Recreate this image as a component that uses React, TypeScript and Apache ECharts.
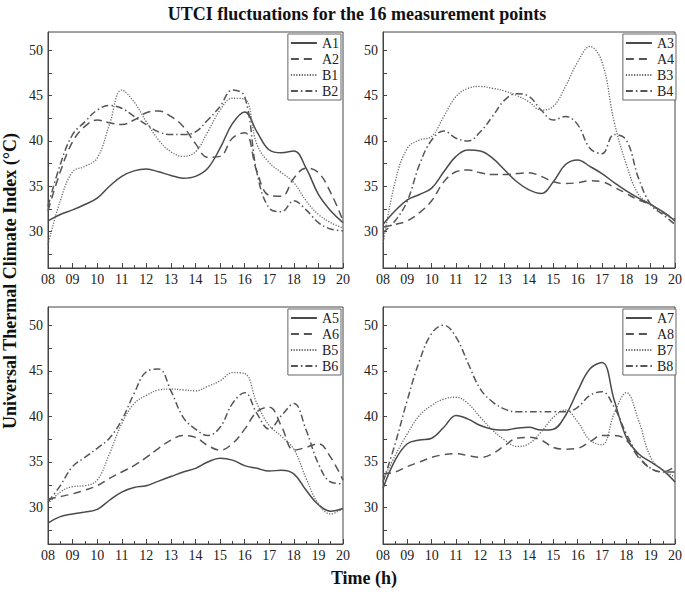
import React, { useEffect, useRef } from "react";
import * as echarts from "echarts";

const hours = [8, 8.5, 9, 9.5, 10, 10.5, 11, 11.5, 12, 12.5, 13, 13.5, 14, 14.5, 15, 15.5, 16, 16.5, 17, 17.5, 18, 18.5, 19, 19.5, 20];

// Panel 1
const A1 = [31.2, 31.9, 32.4, 33.0, 33.7, 35.0, 36.1, 36.7, 36.9, 36.6, 36.2, 35.9, 36.1, 37.0, 39.2, 41.9, 43.2, 41.0, 39.0, 38.7, 38.9, 37.0, 34.1, 32.3, 31.0];
const A2 = [32.3, 36.6, 39.9, 41.6, 42.3, 42.0, 41.8, 42.3, 43.1, 43.3, 42.7, 41.6, 39.7, 38.2, 38.3, 40.3, 40.9, 36.6, 34.0, 33.9, 35.9, 37.0, 36.5, 34.3, 31.2];
const B1 = [28.6, 33.4, 36.6, 37.2, 38.1, 41.8, 45.6, 44.3, 42.1, 40.1, 38.8, 38.3, 38.8, 41.0, 43.4, 44.7, 44.6, 39.6, 37.6, 36.5, 35.4, 33.4, 31.9, 31.0, 30.4];
const B2 = [32.8, 37.4, 40.7, 42.1, 43.4, 43.9, 43.6, 42.7, 41.8, 41.0, 40.7, 40.7, 41.0, 42.3, 43.8, 45.6, 44.9, 36.5, 32.6, 32.2, 33.4, 32.4, 31.0, 30.3, 30.1];

// Panel 2
const A3 = [30.8, 32.3, 33.5, 34.1, 34.8, 36.6, 38.3, 39.0, 38.9, 38.1, 36.8, 35.5, 34.6, 34.2, 35.5, 37.4, 37.9, 37.2, 36.4, 35.4, 34.5, 33.7, 33.0, 32.2, 31.2];
const A4 = [30.5, 30.8, 31.2, 32.1, 33.4, 35.5, 36.6, 36.8, 36.5, 36.3, 36.3, 36.4, 36.5, 36.1, 35.5, 35.3, 35.4, 35.6, 35.5, 34.9, 34.2, 33.5, 33.0, 32.1, 31.4];
const B3 = [28.6, 35.5, 39.2, 40.1, 40.5, 42.7, 44.9, 45.8, 46.0, 45.8, 45.5, 45.0, 44.3, 43.4, 43.8, 46.0, 48.7, 50.4, 48.7, 42.1, 37.4, 34.1, 33.0, 32.1, 31.2];
const B4 = [29.9, 31.2, 33.4, 37.4, 40.1, 41.1, 40.3, 40.0, 41.0, 42.7, 44.5, 45.2, 44.9, 43.4, 42.3, 42.7, 41.8, 39.2, 38.6, 40.7, 40.1, 35.9, 33.0, 31.9, 30.8];

// Panel 3
const A5 = [28.3, 29.0, 29.3, 29.5, 29.8, 30.8, 31.7, 32.2, 32.4, 32.9, 33.4, 33.9, 34.3, 35.0, 35.4, 35.2, 34.6, 34.3, 34.0, 34.1, 33.7, 31.9, 30.3, 29.6, 29.9];
const A6 = [30.9, 31.2, 31.5, 31.9, 32.4, 33.2, 33.9, 34.6, 35.5, 36.5, 37.4, 37.9, 37.7, 36.8, 36.3, 37.0, 38.6, 40.5, 41.0, 38.9, 36.3, 36.6, 37.0, 35.5, 33.0];
const B5 = [30.4, 31.7, 32.3, 32.4, 33.0, 35.9, 39.2, 41.4, 42.3, 42.9, 43.0, 42.9, 42.8, 43.3, 43.9, 44.8, 44.7, 41.4, 39.0, 37.8, 36.4, 33.2, 30.4, 29.3, 29.9];
const B6 = [30.6, 32.4, 34.5, 35.5, 36.5, 37.6, 39.6, 42.5, 44.9, 45.2, 42.8, 39.9, 38.6, 37.9, 38.8, 41.4, 42.6, 40.3, 38.6, 40.1, 41.4, 38.5, 34.8, 32.8, 32.6];

// Panel 4
const A7 = [32.1, 35.2, 37.0, 37.4, 37.6, 38.8, 40.1, 39.7, 39.0, 38.6, 38.5, 38.7, 38.8, 38.5, 38.6, 40.1, 42.8, 45.2, 45.9, 41.8, 37.7, 35.9, 35.0, 34.1, 32.8];
const A8 = [33.7, 33.9, 34.5, 35.0, 35.5, 35.8, 35.9, 35.7, 35.5, 35.9, 36.8, 37.6, 37.7, 37.4, 36.6, 36.4, 36.5, 37.2, 37.9, 37.9, 37.4, 35.5, 34.3, 33.9, 34.5];
const B7 = [33.0, 35.7, 38.1, 40.1, 41.2, 41.9, 42.1, 41.4, 39.9, 38.5, 37.4, 36.7, 37.0, 38.3, 39.9, 40.7, 39.4, 37.4, 36.9, 40.3, 42.6, 39.6, 35.5, 34.1, 33.4];
const B8 = [32.8, 37.0, 41.8, 46.1, 49.1, 50.0, 48.7, 45.8, 43.0, 41.6, 40.8, 40.5, 40.5, 40.5, 40.5, 40.5, 41.0, 42.3, 42.7, 41.0, 38.1, 35.7, 34.3, 33.9, 33.9];

const panels = [
  { names: ["A1", "A2", "B1", "B2"], values: [A1, A2, B1, B2] },
  { names: ["A3", "A4", "B3", "B4"], values: [A3, A4, B3, B4] },
  { names: ["A5", "A6", "B5", "B6"], values: [A5, A6, B5, B6] },
  { names: ["A7", "A8", "B7", "B8"], values: [A7, A8, B7, B8] },
];

const yLabelValues = [30, 35, 40, 45, 50];
const yTickValues = [27.5, 30, 32.5, 35, 37.5, 40, 42.5, 45, 47.5, 50];

const FONT = "'Liberation Serif', 'Times New Roman', serif";

const lineStyles = [
  { type: "solid", color: "#4a4a4a", width: 1.5 },
  { type: [8, 5], color: "#555555", width: 1.5 },
  { type: [1.2, 1.5], color: "#666666", width: 1.3 },
  { type: [7, 3, 1.5, 3], color: "#555555", width: 1.5 },
];

const gridPos = [
  { left: 48, top: 32, width: 295, height: 236 },
  { left: 383, top: 32, width: 295, height: 236 },
  { left: 48, top: 307, width: 295, height: 237 },
  { left: 383, top: 307, width: 295, height: 237 },
];

export default function App() {
  const ref = useRef<HTMLDivElement>(null);
  useEffect(() => {
    if (!ref.current) return;
    const chart = echarts.init(ref.current, null, { renderer: "svg" });
    const grids = gridPos.map((g) => ({
      ...g,
      show: true,
      borderColor: "#444",
      borderWidth: 1,
      backgroundColor: "transparent",
    }));
    const xAxes = gridPos.map((_, i) => ({
      type: "value",
      gridIndex: i,
      min: 8,
      max: 20,
      interval: 1,
      axisLine: { show: true, lineStyle: { color: "#444", width: 1 } },
      axisTick: { show: true, inside: true, length: 5, lineStyle: { color: "#444" } },
      minorTick: { show: true, splitNumber: 2, length: 3, lineStyle: { color: "#444" } },
      splitLine: { show: false },
      axisLabel: {
        color: "#222",
        fontFamily: FONT,
        fontSize: 14,
        margin: 4,
        formatter: (v: number) => (v < 10 ? "0" + v : String(v)),
      },
    }));
    const yAxes = gridPos.map((_, i) => ({
      type: "value",
      gridIndex: i,
      min: 26,
      max: 52,
      axisLine: { show: true, lineStyle: { color: "#444", width: 1 } },
      axisTick: {
        show: true,
        inside: true,
        length: 4,
        customValues: yTickValues,
        lineStyle: { color: "#444" },
      },
      splitLine: { show: false },
      axisLabel: {
        color: "#222",
        fontFamily: FONT,
        fontSize: 14,
        margin: 5,
        customValues: yLabelValues,
      },
    }));
    const series: any[] = [];
    panels.forEach((p, pi) => {
      p.names.forEach((name, si) => {
        series.push({
          type: "line",
          name,
          xAxisIndex: pi,
          yAxisIndex: pi,
          data: hours.map((h, k) => [h, p.values[si][k]]),
          smooth: 0.4,
          symbol: "none",
          lineStyle: { ...lineStyles[si] },
          itemStyle: { color: lineStyles[si].color, opacity: 0 },
        });
      });
    });
    const legends = panels.map((p, pi) => ({
      data: p.names,
      orient: "vertical",
      align: "left",
      right: pi % 2 === 0 ? 344 : 9,
      top: pi < 2 ? 34 : 309,
      itemWidth: 26,
      itemHeight: 10,
      itemGap: 2,
      padding: [2, 2, 2, 2],
      borderColor: "#666",
      borderWidth: 1,
      borderRadius: 0,
      backgroundColor: "#fff",
      selectedMode: false,
      itemStyle: { opacity: 0 },
      textStyle: { fontFamily: FONT, fontSize: 14, lineHeight: 14, color: "#222" },
    }));
    chart.setOption({
      animation: false,
      backgroundColor: "#fff",
      title: {
        text: "UTCI fluctuations for the 16 measurement points",
        left: 352,
        top: 0,
        textAlign: "center",
        textStyle: { fontFamily: FONT, fontSize: 18, fontWeight: "bold", color: "#111" },
      },
      grid: grids,
      xAxis: xAxes,
      yAxis: yAxes,
      legend: legends,
      series,
      graphic: [
        {
          type: "text",
          x: 10,
          y: 281,
          rotation: Math.PI / 2,
          style: {
            text: "Universal Thermal Climate Index (°C)",
            font: `bold 18px ${FONT}`,
            fill: "#111",
            textAlign: "center",
            textVerticalAlign: "middle",
          },
        },
        {
          type: "text",
          x: 364,
          y: 578,
          style: {
            text: "Time (h)",
            font: `bold 18px ${FONT}`,
            fill: "#111",
            textAlign: "center",
            textVerticalAlign: "middle",
          },
        },
      ],
    });
    return () => chart.dispose();
  }, []);
  return (
    <div
      ref={ref}
      style={{ position: "fixed", left: 0, top: 0, width: 685, height: 598, background: "#fff" }}
    />
  );
}
